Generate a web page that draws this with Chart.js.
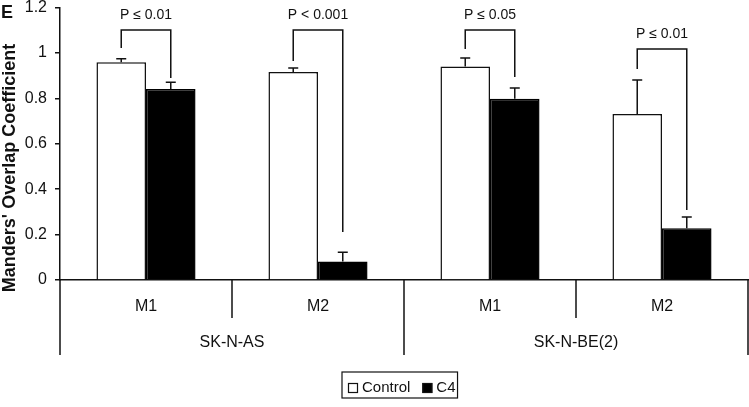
<!DOCTYPE html>
<html><head><meta charset="utf-8">
<script src="https://cdn.jsdelivr.net/npm/chart.js@4"></script>
<style>html,body{margin:0;padding:0;background:#fff;} canvas{display:block;}</style>
</head><body>
<canvas id="c" width="749" height="407"></canvas>
<script>
// ---- data ----
const categories = ['M1', 'M2', 'M1', 'M2'];
const groups = ['SK-N-AS', 'SK-N-BE(2)'];
const controlValues = [0.959, 0.916, 0.940, 0.731];
const controlErrors = [0.016, 0.018, 0.038, 0.150];
const c4Values = [0.841, 0.081, 0.799, 0.228];
const c4Errors = [0.030, 0.041, 0.047, 0.049];
const yTicks = [0, 0.2, 0.4, 0.6, 0.8, 1, 1.2];
const pLabels = ['P \u2264 0.01', 'P < 0.001', 'P \u2264 0.05', 'P \u2264 0.01'];
const bracketTop = [1.101, 1.101, 1.101, 1.018];
const bracketLeftEnd = [1.022, 0.965, 1.018, 0.930];
const bracketRightEnd = [0.890, 0.211, 0.894, 0.308];
const yTitle = "Manders' Overlap Coefficient";
const panelLetter = 'E';

const INK = '#111';
const FONT = '"Liberation Sans", Arial, Helvetica, sans-serif';

const deco = {
  id: 'deco',
  afterDatasetsDraw(chart) {
    const ctx = chart.ctx, y = chart.scales.y;
    const mC = chart.getDatasetMeta(0), mT = chart.getDatasetMeta(1);
    ctx.save();
    ctx.strokeStyle = INK;
    ctx.lineWidth = 1.5;
    // error bars (upper)
    const errs = [[mC, controlValues, controlErrors], [mT, c4Values, c4Errors]];
    errs.forEach(([meta, vals, es]) => {
      meta.data.forEach((bar, i) => {
        const y0 = y.getPixelForValue(vals[i]);
        const y1 = y.getPixelForValue(vals[i] + es[i]);
        ctx.beginPath();
        ctx.moveTo(bar.x, y0); ctx.lineTo(bar.x, y1);
        ctx.moveTo(bar.x - 5, y1); ctx.lineTo(bar.x + 5, y1);
        ctx.stroke();
      });
    });
    // significance brackets
    ctx.fillStyle = INK;
    ctx.font = '14px ' + FONT;
    ctx.textAlign = 'center';
    ctx.textBaseline = 'middle';
    for (let i = 0; i < categories.length; i++) {
      const xl = mC.data[i].x, xr = mT.data[i].x;
      const yt = y.getPixelForValue(bracketTop[i]);
      ctx.beginPath();
      ctx.moveTo(xl, y.getPixelForValue(bracketLeftEnd[i]));
      ctx.lineTo(xl, yt);
      ctx.lineTo(xr, yt);
      ctx.lineTo(xr, y.getPixelForValue(bracketRightEnd[i]));
      ctx.stroke();
      ctx.fillText(pLabels[i], (xl + xr) / 2, yt - 14.5);
    }
    ctx.restore();
  },
  afterDraw(chart) {
    const ctx = chart.ctx, a = chart.chartArea, x = chart.scales.x;
    ctx.save();
    ctx.strokeStyle = INK;
    ctx.lineWidth = 1.5;
    // category dividers below axis
    const px = i => x.getPixelForValue(i);
    const bounds = [a.left];
    for (let i = 0; i < categories.length - 1; i++) bounds.push((px(i) + px(i + 1)) / 2);
    bounds.push(a.right);
    bounds.forEach((bx, k) => {
      const len = (k % 2 === 0) ? 75 : 38;
      ctx.beginPath();
      ctx.moveTo(bx, a.bottom); ctx.lineTo(bx, a.bottom + len);
      ctx.stroke();
    });
    // legend (framed)
    ctx.font = '15px ' + FONT;
    ctx.textAlign = 'left';
    ctx.textBaseline = 'middle';
    let cx = 348;
    const boxTop = 383, textY = 388;
    chart.data.datasets.forEach(ds => {
      ctx.fillStyle = ds.backgroundColor;
      ctx.fillRect(cx, boxTop, 10, 10);
      ctx.lineWidth = 1.2;
      ctx.strokeStyle = INK;
      ctx.strokeRect(cx + 0.5, boxTop + 0.5, 9, 9);
      cx += 14;
      ctx.fillStyle = INK;
      ctx.fillText(ds.label, cx, textY);
      cx += ctx.measureText(ds.label).width + 12;
    });
    ctx.lineWidth = 1.2;
    ctx.strokeRect(342, 372, cx - 12 + 2 - 342, 26);
    // y title
    ctx.fillStyle = INK;
    ctx.font = 'bold 18px ' + FONT;
    ctx.textAlign = 'center';
    ctx.textBaseline = 'middle';
    ctx.translate(10, 168);
    ctx.rotate(-Math.PI / 2);
    ctx.fillText(yTitle, 0, 0);
    ctx.setTransform(1, 0, 0, 1, 0, 0);
    ctx.textAlign = 'left';
    ctx.textBaseline = 'alphabetic';
    ctx.fillText(panelLetter, 1, 18);
    ctx.restore();
  }
};

new Chart(document.getElementById('c'), {
  type: 'bar',
  data: {
    labels: categories,
    datasets: [
      { label: 'Control', data: controlValues, backgroundColor: '#fff', borderColor: INK, borderWidth: 1.5 },
      { label: 'C4', data: c4Values, backgroundColor: '#000', borderColor: '#000', borderWidth: 1.5 }
    ]
  },
  options: {
    responsive: false,
    animation: false,
    devicePixelRatio: 1,
    layout: { padding: { top: 7.6, right: 1, left: 0, bottom: 0 } },
    datasets: { bar: { categoryPercentage: 0.576, barPercentage: 1 } },
    plugins: {
      tooltip: { enabled: false },
      legend: { display: false }
    },
    scales: {
      x: {
        position: 'bottom',
        grid: { display: false },
        border: { display: true, color: INK, width: 1.5 },
        ticks: { font: { family: FONT, size: 16 }, color: INK, padding: 9, maxRotation: 0 },
        afterFit: s => { s.height = 38; s.paddingLeft = 0; s.paddingRight = 0; }
      },
      x2: {
        type: 'category',
        position: 'bottom',
        weight: 1,
        labels: groups,
        offset: true,
        grid: { display: false },
        border: { display: false },
        ticks: { font: { family: FONT, size: 16 }, color: INK, padding: 7, maxRotation: 0 },
        afterFit: s => { s.height = 89; s.paddingLeft = 0; s.paddingRight = 0; }
      },
      y: {
        min: 0, max: 1.2,
        afterBuildTicks: s => { s.ticks = yTicks.map(v => ({ value: v })); },
        grid: { drawOnChartArea: false, drawTicks: true, tickLength: 5, color: INK, lineWidth: 1.5 },
        border: { display: true, color: INK, width: 1.5 },
        ticks: { font: { family: FONT, size: 16 }, color: INK, padding: 8, callback: v => String(v) },
        afterFit: s => { s.width = 60; s.paddingTop = 0; s.paddingBottom = 0; }
      }
    }
  },
  plugins: [deco]
});
</script>
</body></html>
